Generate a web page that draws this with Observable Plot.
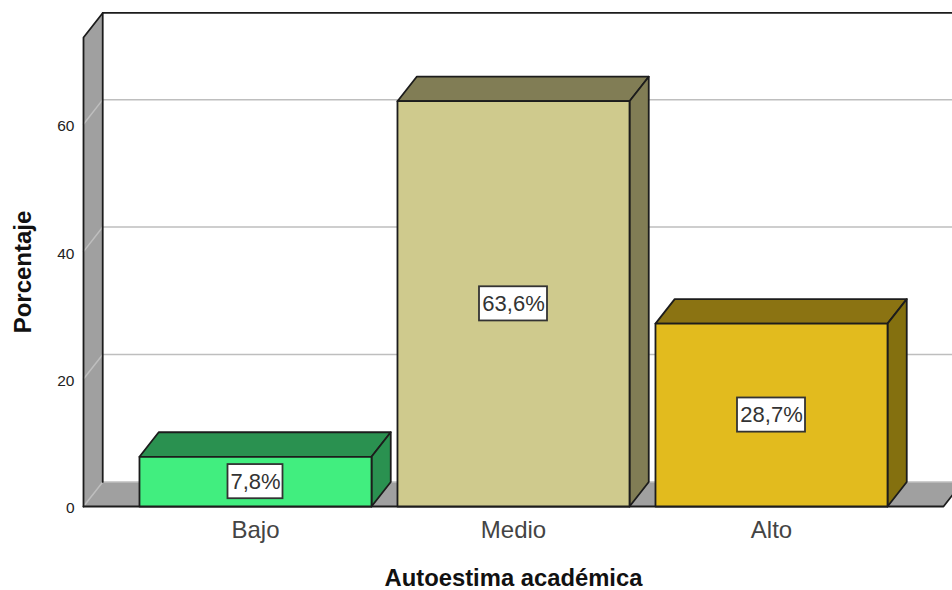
<!DOCTYPE html>
<html>
<head>
<meta charset="utf-8">
<script src="https://cdn.jsdelivr.net/npm/d3@7"></script>
<script src="https://cdn.jsdelivr.net/npm/@observablehq/plot@0.6"></script>
<style>html,body{margin:0;padding:0;background:#fff}svg{display:block}</style>
</head>
<body>
<div id="chart"></div>
<script>
const categories = ["Bajo", "Medio", "Alto"];
const values = [7.8, 63.6, 28.7];
const labels = ["7,8%", "63,6%", "28,7%"];
const frontColors = ["#41EE7F", "#CFCA8D", "#E2BB1E"];
const topColors = ["#2A9150", "#817D55", "#8B7312"];
const sideColors = ["#2A9150", "#817D55", "#84700F"];
const yTicks = [0, 20, 40, 60];

// scale extents and the 3D depth, all in data units
const xMin = -2 / 3, xMax = 2 + 2 / 3, yMax = 73.6;
const depthX = 0.0745, depthY = 3.85, halfBar = 0.4497;

const faces = [];
const poly = (id, color, pts) => pts.forEach(([x, y]) => faces.push({id, color, x, y}));
values.forEach((v, i) => {
  const l = i - halfBar, r = i + halfBar;
  poly("top" + i, topColors[i], [[l, v], [l + depthX, v + depthY], [r + depthX, v + depthY], [r, v], [l, v]]);
  poly("side" + i, sideColors[i], [[r, v], [r + depthX, v + depthY], [r + depthX, depthY], [r, 0], [r, v]]);
  poly("front" + i, frontColors[i], [[l, 0], [l, v], [r, v], [r, 0], [l, 0]]);
});

const wall = [];
[[xMin, 0], [xMin, yMax], [xMin + depthX, yMax + depthY], [xMin + depthX, depthY], [xMin, 0]]
  .forEach(([x, y]) => wall.push({id: "wall", x, y}));
const far = xMax + depthX;
[[xMin, 0], [xMin + depthX, depthY], [far, depthY], [xMax, 0], [xMin, 0]]
  .forEach(([x, y]) => wall.push({id: "floor", x, y}));

const grid = [];
yTicks.forEach(v => [[xMin, v], [xMin + depthX, v + depthY], [far, v + depthY]]
  .forEach(([x, y]) => grid.push({id: v, x, y})));

const edges = [];
[[xMin, 0], [xMin, yMax], [xMin + depthX, yMax + depthY], [far, yMax + depthY]]
  .forEach(([x, y]) => edges.push({id: "a", x, y}));
[[xMin + depthX, yMax + depthY], [xMin + depthX, depthY]]
  .forEach(([x, y]) => edges.push({id: "b", x, y}));
[[xMin, 0], [xMax, 0], [far, depthY]]
  .forEach(([x, y]) => edges.push({id: "c", x, y}));

const boxes = values.map((v, i) => {
  const hw = (labels[i].length >= 5 ? 34 : 27.5) / 258;
  return {x1: i - hw, x2: i + hw, y1: v / 2 - 2.68, y2: v / 2 + 2.68, label: labels[i], x: i, y: v / 2};
});

const font = "'Liberation Sans', Arial, sans-serif";
const plot = Plot.plot({
  width: 952, height: 590,
  marginTop: 37, marginBottom: 84, marginLeft: 83, marginRight: 9,
  style: {fontFamily: font, background: "#fff", overflow: "hidden"},
  color: {type: "identity"},
  x: {domain: [xMin, xMax], axis: null},
  y: {domain: [0, yMax], axis: null},
  marks: [
    Plot.line(wall, {x: "x", y: "y", z: "id", fill: "#A0A0A0", stroke: "none"}),
    Plot.line(grid, {x: "x", y: "y", z: "id", stroke: "#BEBEBE", strokeWidth: 1.5}),
    Plot.line(edges, {x: "x", y: "y", z: "id", stroke: "#1c1c1c", strokeWidth: 1.8}),
    Plot.line(faces, {x: "x", y: "y", z: "id", fill: "color", stroke: "#1c1c1c", strokeWidth: 1.8, strokeLinejoin: "round"}),
    Plot.axisY({ticks: yTicks, tickSize: 0, tickPadding: 9, dy: 2, fontSize: 15.5, label: null, fill: "#222", tickFormat: d => d}),
    Plot.axisX({ticks: [0, 1, 2], tickSize: 0, tickPadding: 14, fontSize: 24, label: null, fill: "#444", tickFormat: i => categories[i]}),
    Plot.rect(boxes, {x1: "x1", x2: "x2", y1: "y1", y2: "y2", fill: "#fff", stroke: "#333", strokeWidth: 1.8}),
    Plot.text(boxes, {x: "x", y: "y", text: "label", fontSize: 22, fill: "#333"}),
    Plot.text(["Porcentaje"], {frameAnchor: "left", textAnchor: "middle", lineAnchor: "middle", dx: -60, rotate: -90, fontSize: 24, fontWeight: "bold", fill: "#111"}),
    Plot.text(["Autoestima académica"], {frameAnchor: "bottom", lineAnchor: "middle", dy: 72, fontSize: 23.8, fontWeight: "bold", fill: "#111"})
  ]
});
document.getElementById("chart").append(plot);
</script>
</body>
</html>
